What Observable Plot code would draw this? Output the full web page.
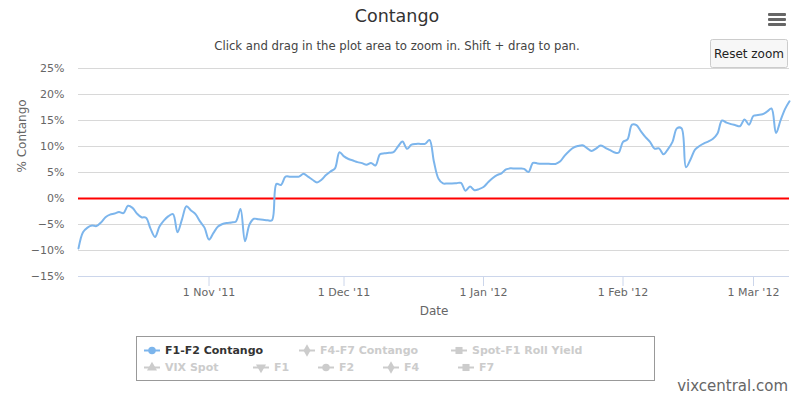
<!DOCTYPE html>
<html>
<head>
<meta charset="utf-8">
<script src="https://cdn.jsdelivr.net/npm/d3@7"></script>
<script src="https://cdn.jsdelivr.net/npm/@observablehq/plot@0.6"></script>
<style>
  html, body { margin: 0; padding: 0; background: #fff; }
  #wrap { position: relative; width: 793px; height: 395px; font-family: "DejaVu Sans", sans-serif; overflow: hidden; }
  #wrap > svg { position: absolute; left: 0; top: 0; }
</style>
</head>
<body>
<div id="wrap"></div>
<script>
// ---- data ----
const dates = [
  "2011-10-03","2011-10-04","2011-10-05","2011-10-06","2011-10-07","2011-10-08","2011-10-09","2011-10-10","2011-10-11","2011-10-12",
  "2011-10-13","2011-10-14","2011-10-15","2011-10-16","2011-10-17","2011-10-18","2011-10-19","2011-10-20","2011-10-21","2011-10-22",
  "2011-10-23","2011-10-24","2011-10-25","2011-10-26","2011-10-27","2011-10-28","2011-10-29","2011-10-30","2011-10-31",
  "2011-11-01","2011-11-02","2011-11-03","2011-11-04","2011-11-05","2011-11-06","2011-11-07","2011-11-08","2011-11-09","2011-11-10",
  "2011-11-11","2011-11-12","2011-11-13","2011-11-14","2011-11-15","2011-11-16","2011-11-17","2011-11-18","2011-11-19","2011-11-20",
  "2011-11-21","2011-11-22","2011-11-23","2011-11-24","2011-11-25","2011-11-26","2011-11-27","2011-11-28","2011-11-29","2011-11-30",
  "2011-12-01","2011-12-02","2011-12-03","2011-12-04","2011-12-05","2011-12-06","2011-12-07","2011-12-08","2011-12-09","2011-12-10",
  "2011-12-11","2011-12-12","2011-12-13","2011-12-14","2011-12-15","2011-12-16","2011-12-17","2011-12-18","2011-12-19","2011-12-20",
  "2011-12-21","2011-12-22","2011-12-23","2011-12-24","2011-12-25","2011-12-26","2011-12-27","2011-12-28","2011-12-29","2011-12-30","2011-12-31",
  "2012-01-01","2012-01-02","2012-01-03","2012-01-04","2012-01-05","2012-01-06","2012-01-07","2012-01-08","2012-01-09","2012-01-10",
  "2012-01-11","2012-01-12","2012-01-13","2012-01-14","2012-01-15","2012-01-16","2012-01-17","2012-01-18","2012-01-19","2012-01-20",
  "2012-01-21","2012-01-22","2012-01-23","2012-01-24","2012-01-25","2012-01-26","2012-01-27","2012-01-28","2012-01-29","2012-01-30","2012-01-31",
  "2012-02-01","2012-02-02","2012-02-03","2012-02-04","2012-02-05","2012-02-06","2012-02-07","2012-02-08","2012-02-09","2012-02-10",
  "2012-02-11","2012-02-12","2012-02-13","2012-02-14","2012-02-15","2012-02-16","2012-02-17","2012-02-18","2012-02-19","2012-02-20",
  "2012-02-21","2012-02-22","2012-02-23","2012-02-24","2012-02-25","2012-02-26","2012-02-27","2012-02-28","2012-02-29",
  "2012-03-01","2012-03-02","2012-03-03","2012-03-04","2012-03-05","2012-03-06","2012-03-07","2012-03-08","2012-03-09"
];
const f1f2Contango = [
  // Oct
  -9.6, -6.5, -5.6, -5.2, -5.3, -4.6, -3.6, -3.1, -2.9, -2.6,
  -2.8, -1.4, -1.8, -2.9, -3.6, -3.7, -5.8, -7.4, -5.4, -4.2,
  -3.4, -3.0, -6.5, -4.0, -1.5, -2.3, -3.0, -4.4, -5.6,
  // Nov
  -7.9, -6.6, -5.4, -4.9, -4.7, -4.6, -4.4, -2.0, -8.2, -5.0,
  -3.9, -4.0, -4.1, -4.2, -4.2, 2.8, 2.6, 4.2, 4.2, 4.2,
  4.2, 4.75, 4.2, 3.6, 3.1, 3.6, 4.5, 5.2, 5.8, 8.9,
  // Dec
  8.1, 7.6, 7.3, 7.0, 6.8, 6.5, 6.85, 6.35, 8.5, 8.7,
  8.8, 8.9, 10.0, 10.95, 9.55, 10.35, 10.5, 10.5, 10.5, 11.25,
  7.0, 3.8, 2.9, 2.9, 2.9, 2.95, 3.0, 1.5, 2.3, 1.6, 1.8,
  // Jan
  2.2, 3.1, 3.9, 4.5, 4.85, 5.6, 5.8, 5.75, 5.75, 5.7,
  5.1, 6.85, 6.75, 6.7, 6.7, 6.65, 6.65, 7.1, 8.2, 9.1,
  9.8, 10.1, 10.25, 9.7, 9.15, 9.6, 10.2, 9.8, 9.35, 8.9, 8.8,
  // Feb
  10.9, 11.35, 14.2, 14.1, 12.9, 11.8, 10.9, 9.6, 9.65, 8.5,
  9.5, 10.9, 13.5, 13.5, 6.0, 7.5, 9.4, 10.1, 10.6, 11.0,
  11.5, 12.5, 15.0, 14.6, 14.3, 14.1, 13.9, 15.2, 14.2,
  // Mar
  15.9, 16.05, 16.2, 16.7, 17.3, 12.6, 15.0, 17.2, 18.7
];
const yTicks = [-15, -10, -5, 0, 5, 10, 15, 20, 25];
const xTickDates = ["2011-11-01", "2011-12-01", "2012-01-01", "2012-02-01", "2012-03-01"];
const xTickLabels = ["1 Nov '11", "1 Dec '11", "1 Jan '12", "1 Feb '12", "1 Mar '12"];
const legendRow1 = ["F1-F2 Contango", "F4-F7 Contango", "Spot-F1 Roll Yield"];
const legendRow1Symbols = ["circle", "diamond", "square"];
const legendRow2 = ["VIX Spot", "F1", "F2", "F4", "F7"];
const legendRow2Symbols = ["triangle", "triangle-down", "circle", "diamond", "square"];
const titleText = "Contango";
const subtitleText = "Click and drag in the plot area to zoom in. Shift + drag to pan.";
const yAxisTitle = "% Contango";
const xAxisTitle = "Date";
const creditText = "vixcentral.com";

// ---- build ----
const parse = d3.utcParse("%Y-%m-%d");
const rows = dates.map((d, i) => ({date: parse(d), value: f1f2Contango[i]}));
const tickDates = xTickDates.map(parse);
const labelFor = new Map(tickDates.map((d, i) => [+d, xTickLabels[i]]));
const FONT = "DejaVu Sans, sans-serif";

const chart = Plot.plot({
  width: 793,
  height: 330,
  marginTop: 68,
  marginLeft: 78,
  marginRight: 4,
  marginBottom: 54,
  style: {fontFamily: FONT, fontSize: "11px", color: "#666", background: "transparent", overflow: "visible"},
  x: {type: "utc", domain: [rows[0].date, rows[rows.length - 1].date]},
  y: {domain: [-15, 25]},
  marks: [
    Plot.gridY(yTicks, {stroke: "#d8d8d8", strokeOpacity: 1}),
    Plot.ruleY([-15], {stroke: "#ccd6eb", strokeWidth: 1}),
    Plot.ruleY([0], {stroke: "#ff0000", strokeWidth: 2}),
    Plot.line(rows, {x: "date", y: "value", stroke: "#7cb5ec", strokeWidth: 2, curve: "catmull-rom"}),
    Plot.axisY(yTicks, {tickSize: 0, tickPadding: 14, label: null, fill: "#666",
      tickFormat: d => `${d}%`.replace("-", "\u2212")}),
    Plot.axisX(tickDates, {tickSize: 10, tickPadding: 2, label: null, stroke: "#ccd6eb", fill: "#666",
      strokeOpacity: 1, tickFormat: d => labelFor.get(+d)}),
    Plot.text([yAxisTitle], {frameAnchor: "left", dx: -56, rotate: -90, fill: "#666", fontSize: 12}),
    Plot.text([xAxisTitle], {frameAnchor: "bottom", dy: 38, fill: "#666", fontSize: 12})
  ]
});

const wrap = document.getElementById("wrap");
wrap.appendChild(chart);

// ---- overlay: title, subtitle, menu, button, legend, credit ----
const svg = d3.create("svg").attr("width", 793).attr("height", 395)
  .style("font-family", FONT).style("pointer-events", "none");

svg.append("text").attr("x", 397).attr("y", 16).attr("text-anchor", "middle")
  .attr("dominant-baseline", "central").attr("font-size", 17.5).attr("fill", "#333").text(titleText);
svg.append("text").attr("x", 397).attr("y", 46).attr("text-anchor", "middle")
  .attr("dominant-baseline", "central").attr("font-size", 11.7).attr("fill", "#444").text(subtitleText);

// menu icon
[13, 18, 23].forEach(y => svg.append("rect").attr("x", 768).attr("y", y).attr("width", 18).attr("height", 3)
  .attr("rx", 1).attr("fill", "#666"));

// reset zoom button
svg.append("rect").attr("x", 710.5).attr("y", 39.5).attr("width", 77).attr("height", 28).attr("rx", 2)
  .attr("fill", "#f7f7f7").attr("stroke", "#cccccc");
svg.append("text").attr("x", 749).attr("y", 53.5).attr("text-anchor", "middle")
  .attr("dominant-baseline", "central").attr("font-size", 12).attr("fill", "#222").text("Reset zoom");

// legend
svg.append("rect").attr("x", 136.5).attr("y", 336.5).attr("width", 518).attr("height", 44)
  .attr("fill", "none").attr("stroke", "#999");
const symbolMap = {
  "circle": d3.symbolCircle, "diamond": d3.symbolDiamond, "square": d3.symbolSquare,
  "triangle": d3.symbolTriangle, "triangle-down": d3.symbolTriangle
};
function legendItem(name, sym, textX, y, active) {
  const color = active ? "#7cb5ec" : "#cccccc";
  const cx = textX - 13;
  svg.append("line").attr("x1", cx - 8).attr("x2", cx + 8).attr("y1", y).attr("y2", y)
    .attr("stroke", color).attr("stroke-width", 2);
  svg.append("path").attr("d", d3.symbol(symbolMap[sym], sym === "square" ? 50 : 44)())
    .attr("transform", `translate(${cx},${y})` + (sym === "triangle-down" ? " rotate(180)" : ""))
    .attr("fill", color);
  svg.append("text").attr("x", textX).attr("y", y).attr("dominant-baseline", "central")
    .attr("font-size", 11).attr("font-weight", "bold").attr("fill", active ? "#333" : "#cccccc").text(name);
}
const row1X = [165, 320, 472];
const row2X = [165, 274, 339, 404, 479];
legendRow1.forEach((n, i) => legendItem(n, legendRow1Symbols[i], row1X[i], 350.5, i === 0));
legendRow2.forEach((n, i) => legendItem(n, legendRow2Symbols[i], row2X[i], 367.5, false));

// credit
svg.append("text").attr("x", 788).attr("y", 386).attr("text-anchor", "end")
  .attr("dominant-baseline", "central").attr("font-size", 15).attr("fill", "#666").text(creditText);

wrap.appendChild(svg.node());
</script>
</body>
</html>
